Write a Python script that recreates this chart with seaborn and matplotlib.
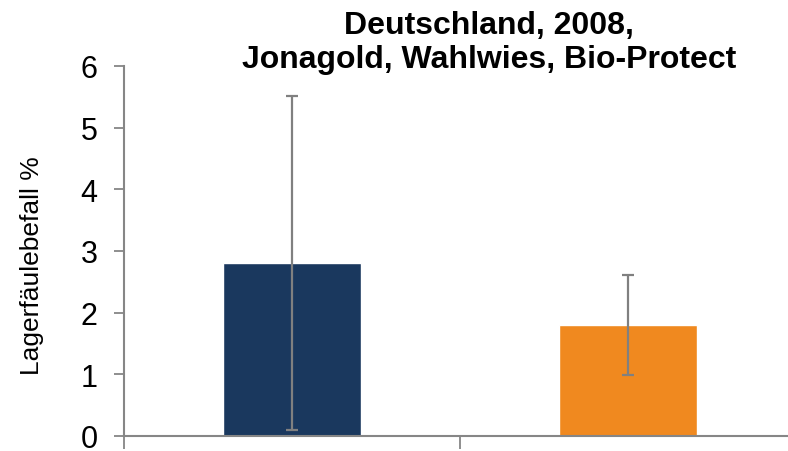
import matplotlib
matplotlib.use("Agg")
import matplotlib.pyplot as plt
import seaborn as sns
import pandas as pd

categories = ["Kontrolle", "Bio-Protect"]
values = [2.80, 1.80]
errors = [2.71, 0.81]
colors = ["#1A385E", "#F0891F"]
title = "Deutschland, 2008,\nJonagold, Wahlwies, Bio-Protect"
ylabel = "Lagerfäulebefall %"
yticks = [0, 1, 2, 3, 4, 5, 6]

sns.set_style("white")
plt.rcParams['font.family'] = ['Liberation Sans', 'DejaVu Sans']
plt.rcParams['text.color'] = 'black'
plt.rcParams['axes.labelcolor'] = 'black'
plt.rcParams['ytick.color'] = 'black'

df = pd.DataFrame({"cat": categories, "val": values})

fig = plt.figure(figsize=(7.88, 4.52), dpi=100)
L, R, B, T = 124/788, 787/788, 1-437/452, 1-67/452
ax = fig.add_axes([L, B, R-L, T-B])

sns.barplot(data=df, x="cat", y="val", hue="cat", palette=colors, legend=False,
            width=0.408, ax=ax, saturation=1, errorbar=None)
ax.errorbar(range(len(values)), values, yerr=errors, fmt="none",
            ecolor="#808080", elinewidth=1.6, capsize=4.6, capthick=1.6)

ax.set_xticks([-0.5, 0.5])
ax.set_xticklabels([])
ax.set_yticks(yticks)
ax.set_yticklabels([str(t) for t in yticks], fontsize=22)
ax.set_xlim(-0.5, -0.5 + (787-124)/336)
ax.set_ylim(0, 6)
ax.tick_params(axis="x", bottom=True, direction="out", length=9, width=1.3, color="#868686")
ax.tick_params(axis="y", left=True, direction="out", length=7, width=1.3, color="#868686",
               pad=12, labelcolor="black")
ax.set_xlabel("")
ax.set_ylabel(ylabel, fontsize=19, color="black")
ax.yaxis.set_label_coords(44/788, 1-266/452, transform=fig.transFigure)

for s in ["top", "right"]:
    ax.spines[s].set_visible(False)
for s in ["left", "bottom"]:
    ax.spines[s].set_color("#868686")
    ax.spines[s].set_linewidth(1.5)

fig.text(489/788, 1-43/452, title, ha="center", va="center",
         fontsize=23, fontweight="bold", linespacing=1.2, color="black")

fig.savefig("out.png", dpi=100)
